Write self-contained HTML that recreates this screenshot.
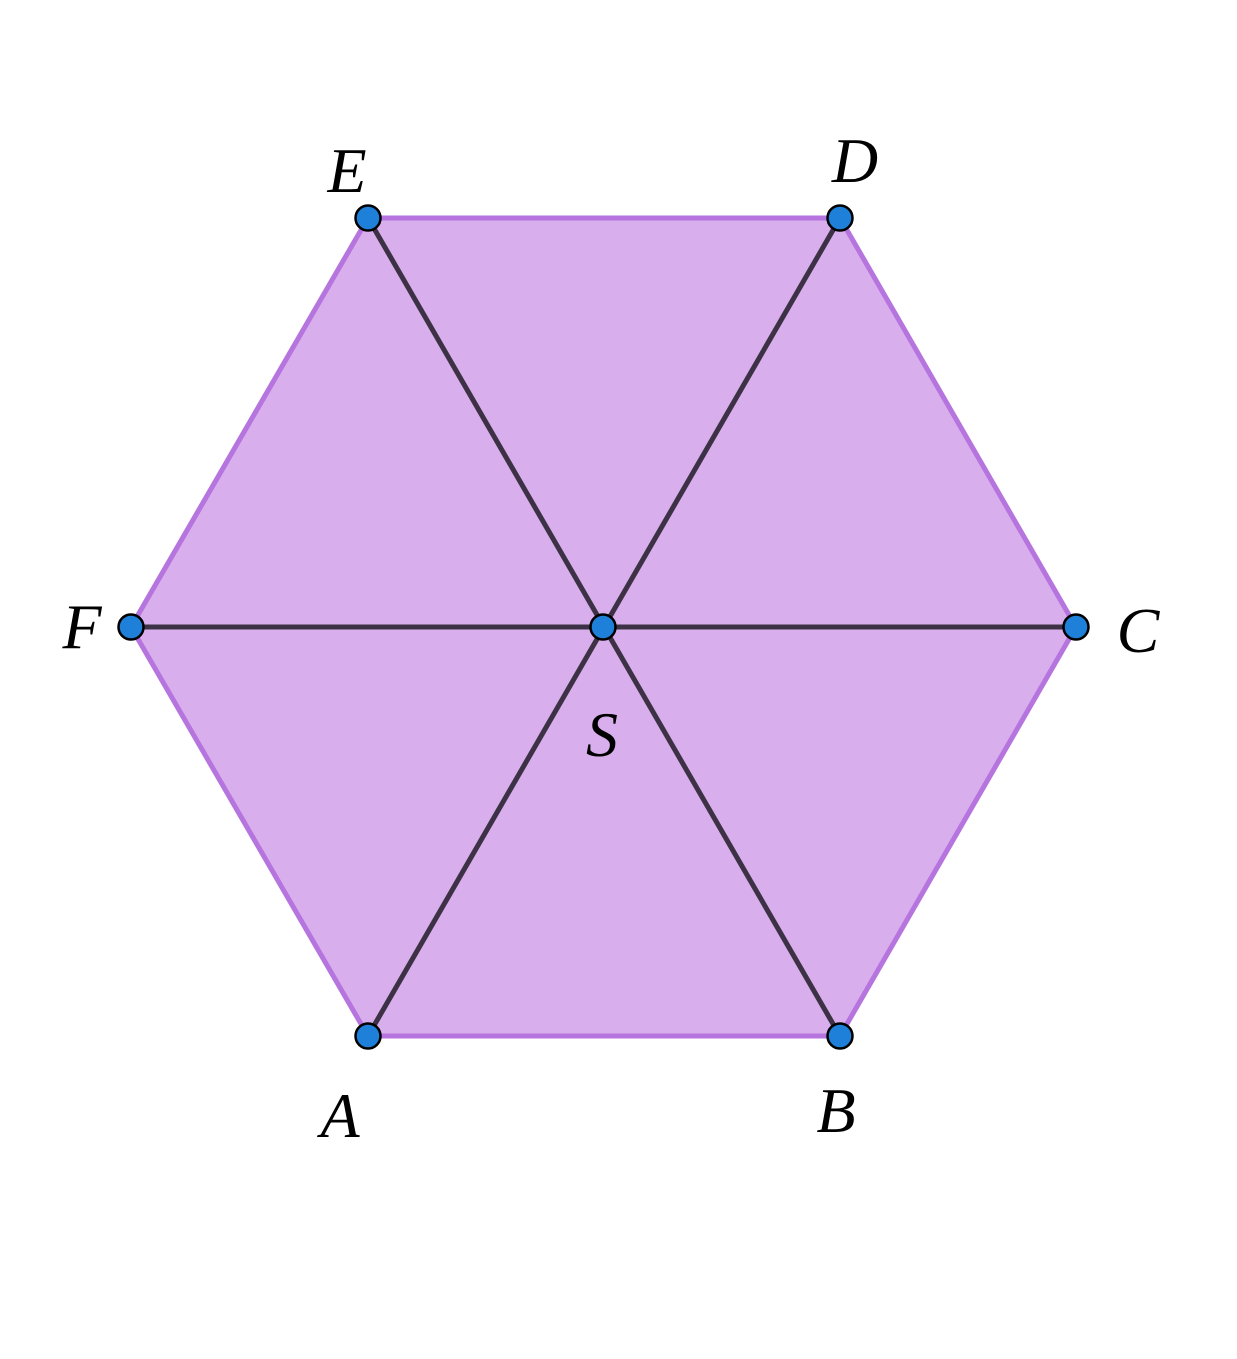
<!DOCTYPE html>
<html><head><style>html,body{margin:0;padding:0;background:#fff;}</style></head>
<body>
<svg width="1237" height="1354" viewBox="0 0 1237 1354" xmlns="http://www.w3.org/2000/svg">
<polygon points="368,218 840,218 1076,627 840,1036 368,1036 131,627" fill="#d9aeed" stroke="#b574de" stroke-width="5" stroke-linejoin="round"/>
<g stroke="#3d3146" stroke-width="5">
<line x1="368" y1="218" x2="840" y2="1036"/>
<line x1="840" y1="218" x2="368" y2="1036"/>
<line x1="131" y1="627" x2="1076" y2="627"/>
</g>
<g fill="#1f80d9" stroke="#000" stroke-width="2.5">
<circle cx="368" cy="218" r="12.5"/><circle cx="840" cy="218" r="12.5"/>
<circle cx="1076" cy="627" r="12.5"/><circle cx="840" cy="1036" r="12.5"/>
<circle cx="368" cy="1036" r="12.5"/><circle cx="131" cy="627" r="12.5"/>
<circle cx="603" cy="627" r="12.5"/>
</g>
<g font-family="Liberation Serif, serif" font-style="italic" font-size="64" fill="#000" text-anchor="middle">
<text x="347" y="192">E</text>
<text x="855" y="182">D</text>
<text x="1138" y="652">C</text>
<text x="836" y="1132">B</text>
<text x="340" y="1137">A</text>
<text x="82" y="648">F</text>
<text x="602" y="756">S</text>
</g>
</svg>
</body></html>
